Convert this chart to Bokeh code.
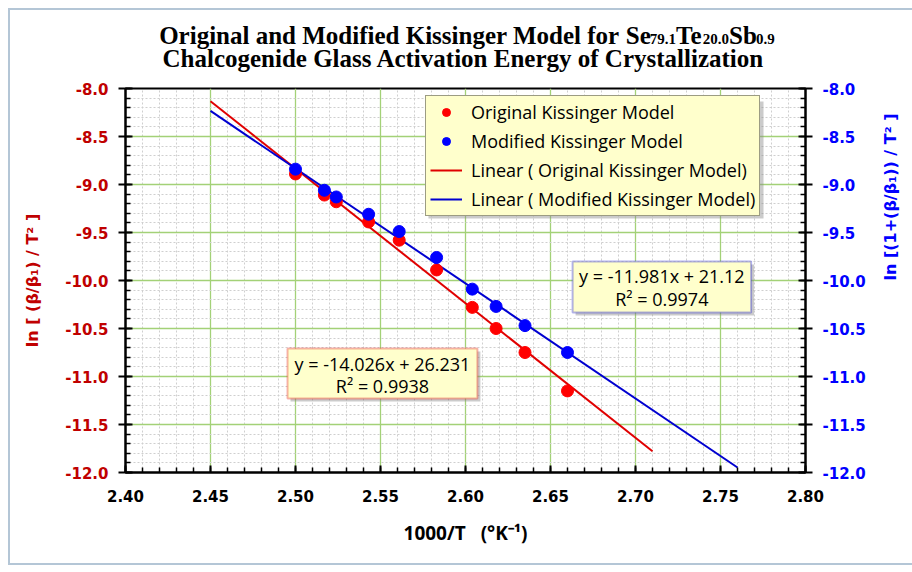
import math
import numpy as np
from bokeh.plotting import figure
from bokeh.layouts import column
from bokeh.models import (LinearAxis, Range1d, Legend, LegendItem, Label, BoxAnnotation,
                          NumeralTickFormatter, FixedTicker)
from bokeh.embed import file_html
from bokeh.resources import INLINE

# ---------------- data ----------------
inv_T = [2.500, 2.517, 2.524, 2.543, 2.561, 2.583, 2.604, 2.618, 2.635, 2.660]
ln_orig = [-8.89, -9.11, -9.18, -9.39, -9.58, -9.89, -10.28, -10.50, -10.75, -11.15]
ln_mod = [-8.84, -9.06, -9.13, -9.31, -9.49, -9.76, -10.09, -10.27, -10.47, -10.75]

orig_slope, orig_intercept, orig_r2 = -14.026, 26.231, 0.9938
mod_slope, mod_intercept, mod_r2 = -11.981, 21.12, 0.9974
orig_fit_x = [2.45, 2.71]
mod_fit_x = [2.45, 2.76]

x_ticks = [2.40, 2.45, 2.50, 2.55, 2.60, 2.65, 2.70, 2.75, 2.80]
y_ticks = [-12.0, -11.5, -11.0, -10.5, -10.0, -9.5, -9.0, -8.5, -8.0]

legend_labels = ["Original Kissinger Model", "Modified Kissinger Model",
                 "Linear ( Original Kissinger Model)", "Linear ( Modified Kissinger Model)"]

title_main = "Original and Modified Kissinger Model for "
title_formula = [("Se", False), ("79.1", True), ("Te", False), ("20.0", True),
                 ("Sb", False), ("0.9", True)]
title_line2 = "Chalcogenide Glass Activation Energy of Crystallization"

RED = "#ff0000"
BLUE = "#0000ff"
DARKRED = "#c00000"
GRID_GREEN = "#a3d177"
BOX_BG = "#ffffcc"
FRAME_BORDER = "#b4c6d6"

W = 912
TH = 80          # title strip height
MH = 572 - TH    # main figure height
FL, FR = 125, 805  # frame left / right in page pixels

# ---------------- title strip ----------------
tf = figure(width=W, height=TH, x_range=Range1d(FL, FR), y_range=Range1d(0, TH),
            x_axis_type=None, y_axis_type=None, output_backend="svg",
            toolbar_location=None, min_border_left=FL, min_border_right=W - FR,
            min_border_top=0, min_border_bottom=0)
tf.grid.visible = False
tf.outline_line_color = None
tf.background_fill_alpha = 0
tf.border_fill_alpha = 0

TF = "Liberation Serif"
BIG, SMALL = 25, 15
# approximate advance widths (em) of Times-like bold glyphs for manual run layout
adv = {"S": .556, "e": .444, "T": .667, "b": .556, "0": .5, "1": .5, "2": .5, "7": .5,
       "9": .5, ".": .25}
def run_width(s, size):
    return sum(adv.get(c, .5) for c in s) * size

main_w = 18.5 * BIG    # approx. advance width of title_main
form_w = sum(run_width(s, SMALL if sub else BIG) for s, sub in title_formula)
total = main_w + form_w
xs = 470 - total / 2 + main_w
base1 = 45.5
tf.add_layout(Label(x=xs, y=base1, text=title_main, text_align="right",
                    text_baseline="alphabetic", text_font=TF, text_font_style="bold",
                    text_font_size=f"{BIG}px", text_color="black"))
cx = xs
for s, sub in title_formula:
    size = SMALL if sub else BIG
    tf.add_layout(Label(x=cx, y=base1 - (4 if sub else 0), text=s, text_align="left",
                        text_baseline="alphabetic", text_font=TF, text_font_style="bold",
                        text_font_size=f"{size}px", text_color="black"))
    cx += run_width(s, size) - (1 if not sub else 0)
tf.add_layout(Label(x=463, y=22, text=title_line2, text_align="center",
                    text_baseline="alphabetic", text_font=TF, text_font_style="bold",
                    text_font_size=f"{BIG}px", text_color="black"))

# ---------------- main chart ----------------
p = figure(width=W, height=MH,
           x_range=Range1d(x_ticks[0], x_ticks[-1]),
           y_range=Range1d(y_ticks[0], y_ticks[-1]),
           output_backend="svg", toolbar_location=None,
           min_border_left=FL, min_border_right=W - FR,
           min_border_top=8, min_border_bottom=100)
p.background_fill_color = "white"
p.border_fill_alpha = 0
p.outline_line_color = "black"
p.outline_line_width = 2

x_minor = list(np.round(np.arange(x_ticks[0], x_ticks[-1] + 1e-9, 0.01), 3))
y_minor = list(np.round(np.arange(y_ticks[0], y_ticks[-1] + 1e-9, 0.1), 3))
xt = FixedTicker(ticks=x_ticks, minor_ticks=x_minor)
yt = FixedTicker(ticks=y_ticks, minor_ticks=y_minor)

p.xaxis.ticker = xt
p.yaxis.ticker = yt
for g in (p.xgrid, p.ygrid):
    g.grid_line_color = GRID_GREEN
    g.grid_line_width = 1.3
    g.minor_grid_line_color = "#cfcfcf"
    g.minor_grid_line_dash = "2 2"
    g.minor_grid_line_width = 1
p.xgrid.ticker = xt
p.ygrid.ticker = yt

# left axis
la = p.yaxis[0]
la.formatter = NumeralTickFormatter(format="0.0")
la.axis_label = "ln [ (β/β₁) / T² ]"
la.axis_label_text_color = DARKRED
la.axis_label_standoff = 20
la.major_label_text_color = DARKRED
la.major_label_standoff = 10

# right axis
p.extra_y_ranges = {"right": Range1d(y_ticks[0], y_ticks[-1])}
ra = LinearAxis(y_range_name="right", ticker=yt, formatter=NumeralTickFormatter(format="0.0"))
ra.axis_label = "ln [(1+(β/β₁)) / T² ]"
ra.axis_label_text_color = BLUE
ra.axis_label_standoff = 22
ra.major_label_text_color = BLUE
ra.major_label_standoff = 10
try:
    ra.axis_label_orientation = math.pi / 2
except Exception:
    pass
p.add_layout(ra, "right")

for ax in (la, ra):
    ax.axis_label_text_font = "DejaVu Sans"
    ax.axis_label_text_font_style = "bold"
    ax.axis_label_text_font_size = "16px"
    ax.major_label_text_font = "DejaVu Sans"
    ax.major_label_text_font_style = "bold"
    ax.major_label_text_font_size = "15px"
    ax.axis_line_color = "black"
    ax.axis_line_width = 2
    ax.major_tick_line_color = "black"
    ax.major_tick_line_width = 2
    ax.major_tick_in = 7
    ax.major_tick_out = 7
    ax.minor_tick_line_color = "black"
    ax.minor_tick_line_width = 1.5
    ax.minor_tick_in = 5
    ax.minor_tick_out = 0

# bottom axis
ba = p.xaxis[0]
ba.formatter = NumeralTickFormatter(format="0.00")
ba.axis_line_color = "black"
ba.axis_line_width = 2
ba.major_tick_line_color = "black"
ba.major_tick_line_width = 2
ba.major_tick_in = 7
ba.major_tick_out = 0
ba.minor_tick_line_color = "black"
ba.minor_tick_line_width = 1.5
ba.minor_tick_in = 5
ba.minor_tick_out = 0
ba.major_label_text_color = "black"
ba.major_label_text_font = "DejaVu Sans"
ba.major_label_text_font_style = "bold"
ba.major_label_text_font_size = "15px"
ba.major_label_standoff = 17
ba.axis_label = "1000/T\u00a0\u00a0\u00a0(°K⁻¹)"
ba.axis_label_text_color = "black"
ba.axis_label_text_font = "Open Sans"
ba.axis_label_text_font_style = "bold"
ba.axis_label_text_font_size = "19px"
ba.axis_label_standoff = 15

# fit lines
orig_fit_y = [orig_slope * x + orig_intercept for x in orig_fit_x]
mod_fit_y = [mod_slope * x + mod_intercept for x in mod_fit_x]
l_o = p.line(orig_fit_x, orig_fit_y, line_color="#e00000", line_width=2)
l_m = p.line(mod_fit_x, mod_fit_y, line_color="#0000d0", line_width=2)

# points
s_o = p.scatter(inv_T, ln_orig, size=12, fill_color=RED, line_color=RED)
s_m = p.scatter(inv_T, ln_mod, size=12, fill_color=BLUE, line_color=BLUE)

# legend drop shadow (legend box is at page x 425..760, y 98..215)
SHADOW = "#8c8c8c"
p.add_layout(BoxAnnotation(left=2.5782, right=2.7753, top=-8.135, bottom=-9.354,
                           fill_color=SHADOW, fill_alpha=0.45, line_color=None))

legend = Legend(items=[LegendItem(label=legend_labels[0], renderers=[s_o]),
                       LegendItem(label=legend_labels[1], renderers=[s_m]),
                       LegendItem(label=legend_labels[2], renderers=[l_o]),
                       LegendItem(label=legend_labels[3], renderers=[l_m])],
                location=(300, 256))
legend.background_fill_color = BOX_BG
legend.background_fill_alpha = 1
legend.border_line_color = "#3a3a3a"
legend.border_line_width = 1.5
legend.label_text_font = "Open Sans"
legend.label_text_font_size = "18px"
legend.label_text_color = "black"
legend.glyph_width = 32
legend.glyph_height = 20
legend.label_height = 20
legend.spacing = 5
legend.padding = 4
legend.margin = 0
legend.label_standoff = 9

# equation boxes (with a soft drop shadow)
DX, DY = 3 / 1700, 3 / 96
def eq_box(left, right, top, bottom, color, slope, intercept, r2, y1, y2):
    p.add_layout(BoxAnnotation(left=left + DX, right=right + DX, top=top - DY, bottom=bottom - DY,
                               fill_color=SHADOW, fill_alpha=0.45, line_color=None))
    p.add_layout(BoxAnnotation(left=left, right=right, top=top, bottom=bottom,
                               fill_color=BOX_BG, fill_alpha=1,
                               line_color=color, line_width=2))
    cx = (left + right) / 2
    for txt, yy in ((f"y = {slope}x + {intercept}", y1), (f"R² = {r2}", y2)):
        p.add_layout(Label(x=cx, y=yy, text=txt, text_align="center", text_baseline="middle",
                           text_font="Open Sans", text_font_size="18px", text_color="black"))

eq_box(2.4953, 2.607, -10.708, -11.229, "#e00000", orig_slope, orig_intercept, orig_r2, -10.868, -11.094)
eq_box(2.663, 2.768, -9.802, -10.333, "#0000d0", mod_slope, mod_intercept, mod_r2, -9.958, -10.19)

p.add_layout(legend)

g = f"linear-gradient({FRAME_BORDER},{FRAME_BORDER})"
layout = column(tf, p, spacing=0)
layout.styles = {
    "background": f"{g} 8px 8px / 2px 556px no-repeat, {g} 8px 8px / 904px 2px no-repeat, "
                  f"{g} 8px 563px / 904px 2px no-repeat, white"
}

open("out.html", "w").write(file_html(layout, INLINE))
